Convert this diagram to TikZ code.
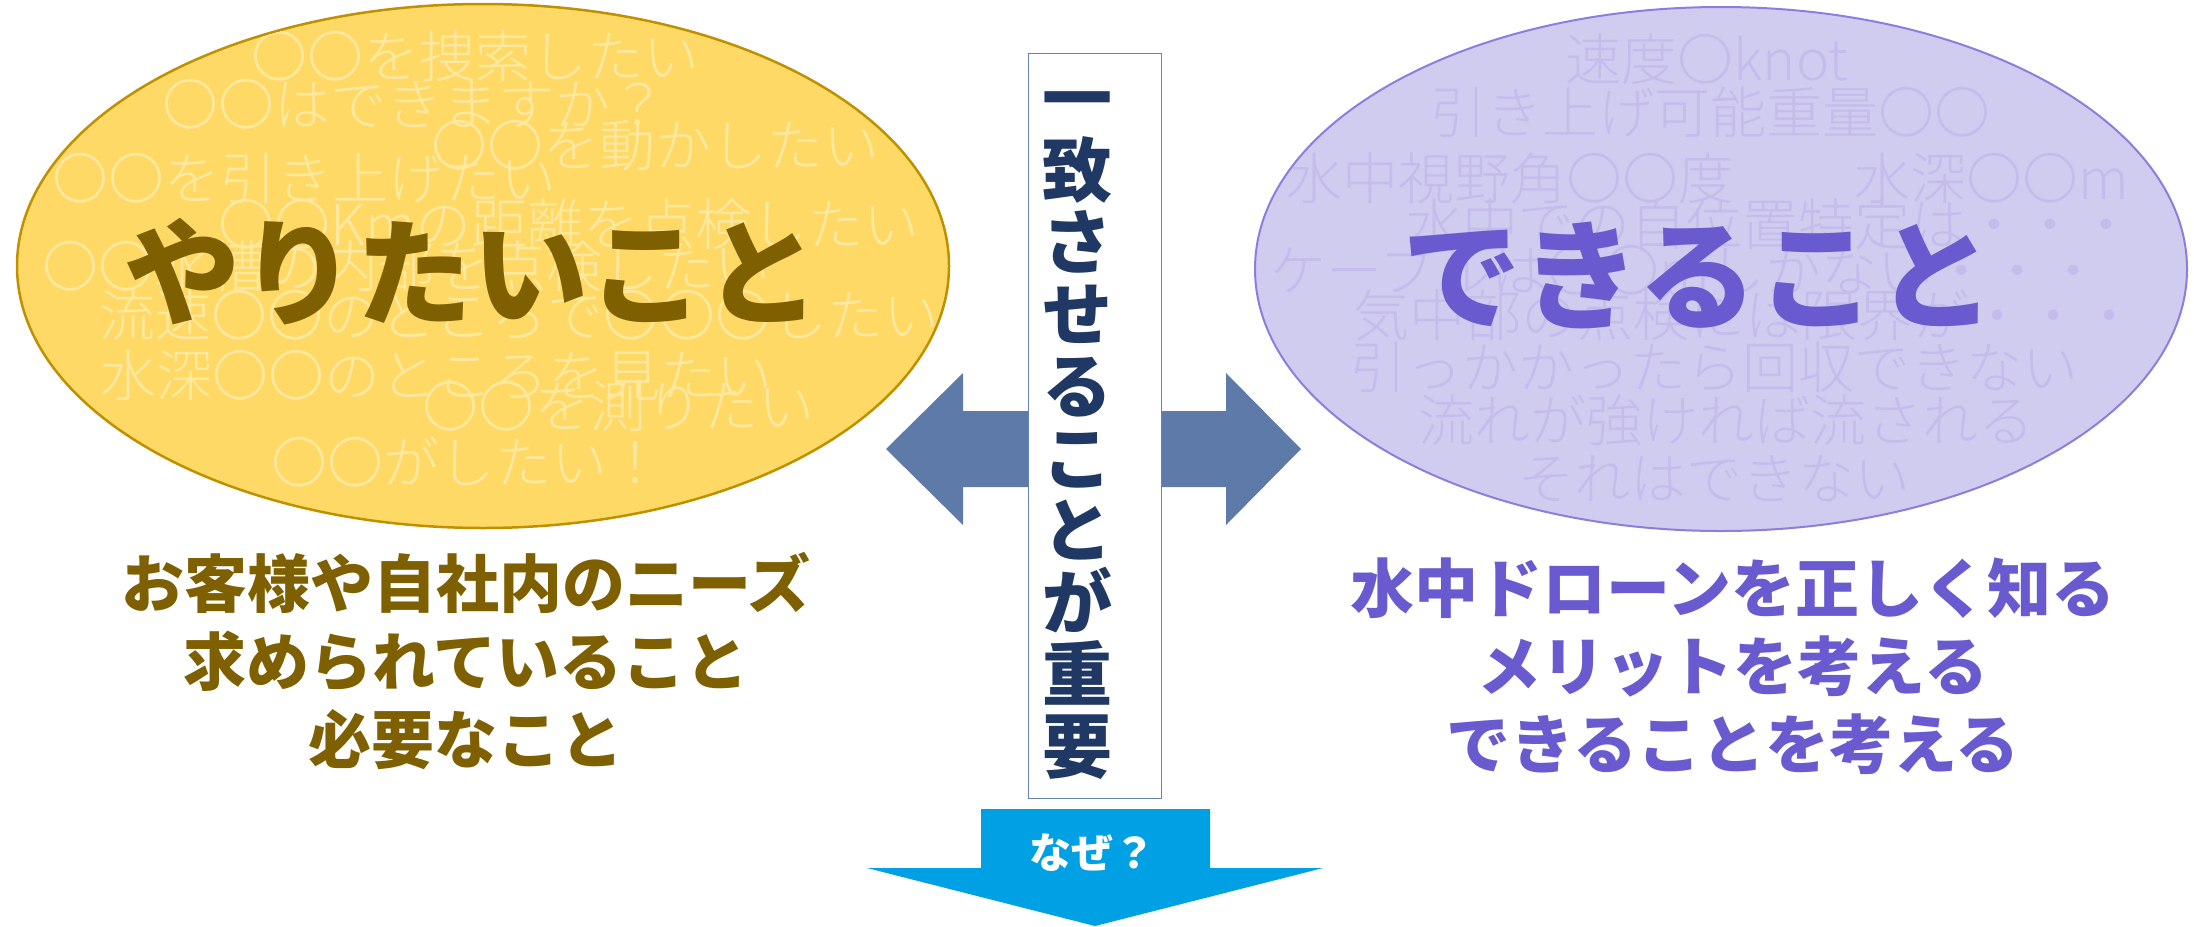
\documentclass[tikz,border=0pt]{standalone}
\usepackage{fontspec}
\newfontfamily\jp{Noto Sans CJK JP}
\IfFontExistsTF{Noto Sans CJK JP Light}{\newfontfamily\jpl{Noto Sans CJK JP Light}}{\newfontfamily\jpl{Noto Sans CJK JP}}
\usetikzlibrary{shapes.geometric}
\definecolor{yfill}{RGB}{255,217,102}
\definecolor{ydraw}{RGB}{191,144,0}
\definecolor{yfaint}{RGB}{255,232,160}
\definecolor{ytext}{RGB}{127,96,0}
\definecolor{pfill}{RGB}{208,204,240}
\definecolor{pdraw}{RGB}{140,126,222}
\definecolor{pfaint}{RGB}{196,189,236}
\definecolor{ptext}{RGB}{106,90,208}
\definecolor{arrblue}{RGB}{94,122,168}
\definecolor{navy}{RGB}{31,56,100}
\definecolor{sky}{RGB}{0,160,228}
\definecolor{boxline}{RGB}{100,130,180}
\tikzset{
  fl/.style={text=yfaint, font=\jpl\fontsize{56}{56}\selectfont, inner sep=0pt},
  fr/.style={text=pfaint, font=\jpl\fontsize{56}{56}\selectfont, inner sep=0pt},
  oval/.style={ellipse, inner sep=0pt, minimum width=932pt, minimum height=524pt},
  title/.style={font=\jp\bfseries\fontsize{116}{116}\selectfont, inner sep=0pt},
  sub/.style={font=\jp\bfseries\fontsize{63}{78}\selectfont, align=center, inner sep=0pt},
}
\begin{document}
\begin{tikzpicture}[x=1pt,y=-1pt]
\useasboundingbox (0,0) rectangle (2194,926);
% ellipses
\node[oval, fill=yfill, draw=ydraw, line width=2.5pt] (want) at (483,266) {};
\node[oval, fill=pfill, draw=pdraw, line width=2pt] (can) at (1721,269) {};
% faint text left
\begin{scope}
\clip (483,266) ellipse [x radius=465pt, y radius=261pt];
\node[fl] (l1) at (475,56) {〇〇を捜索したい};
\node[fl] (l2) at (414,104) {〇〇はできますか？};
\node[fl] (l3) at (655,146) {〇〇を動かしたい};
\node[fl] (l4) at (304,178) {〇〇を引き上げたい};
\node[fl] (l5) at (569,224) {〇〇Kmの距離を点検したい};
\node[fl, anchor=west] (l6) at (42,266) {〇〇水槽の内部を点検したい};
\node[fl] (l7) at (519,315) {流速〇〇のところで〇〇〇したい};
\node[fl] (l8) at (436,375) {水深〇〇のところを見たい};
\node[fl] (l9) at (618,406) {〇〇を測りたい};
\node[fl] (l10) at (467,462) {〇〇がしたい！};
\end{scope}
% faint text right
\begin{scope}
\clip (1721,269) ellipse [x radius=464pt, y radius=261pt];
\node[fr] (r1) at (1707,59) {速度〇knot};
\node[fr] (r2) at (1710,112) {引き上げ可能重量〇〇};
\node[fr] (r3a) at (1510,178) {水中視野角〇〇度};
\node[fr] (r3b) at (1992,178) {水深〇〇m};
\node[fr] (r4) at (1770,224) {水中での自位置特定は・・・};
\node[fr] (r5) at (1686,270) {ケーブルは〇〇mしかない・・・};
\node[fr] (r6) at (1745,315) {気中部の点検には限界が・・・};
\node[fr] (r7) at (1714,367) {引っかかったら回収できない};
\node[fr] (r8) at (1726,420) {流れが強ければ流される};
\node[fr] (r9) at (1714,478) {それはできない};
\end{scope}
% titles
\node[title, text=ytext] (t1) at (472,272) {やりたいこと};
\node[title, text=ptext, font=\jp\bfseries\fontsize{119}{119}\selectfont] (t2) at (1699,275) {できること};
% double arrow
\fill[arrblue] (886,449) -- (963,373) -- (963,411) -- (1226,411) -- (1226,373)
  -- (1301,449) -- (1226,525) -- (1226,487) -- (963,487) -- (963,525) -- cycle;
% vertical box
\node[draw=boxline, fill=white, line width=1.5pt, minimum width=133pt, minimum height=745pt, inner sep=0pt] (box) at (1095,426) {};
\node[font=\jp\bfseries\fontsize{70}{72}\selectfont, text=navy, align=center, inner sep=0pt] (vt) at (1077,436) {一\\致\\さ\\せ\\る\\こ\\と\\が\\重\\要};
% down arrow
\fill[sky] (981,809) -- (1210,809) -- (1210,868) -- (1323,868) -- (1095,926) -- (867,868) -- (981,868) -- cycle;
\node[font=\jp\bfseries\fontsize{42}{42}\selectfont, text=white, inner sep=0pt] (why) at (1092,853) {なぜ？};
% bottom texts
\node[sub, text=ytext] (s1) at (466,661) {お客様や自社内のニーズ\\求められていること\\必要なこと};
\node[sub, text=ptext, font=\jp\bfseries\fontsize{64}{78}\selectfont] (s2) at (1733,666) {水中ドローンを正しく知る\\メリットを考える\\できることを考える};
\end{tikzpicture}
\end{document}
